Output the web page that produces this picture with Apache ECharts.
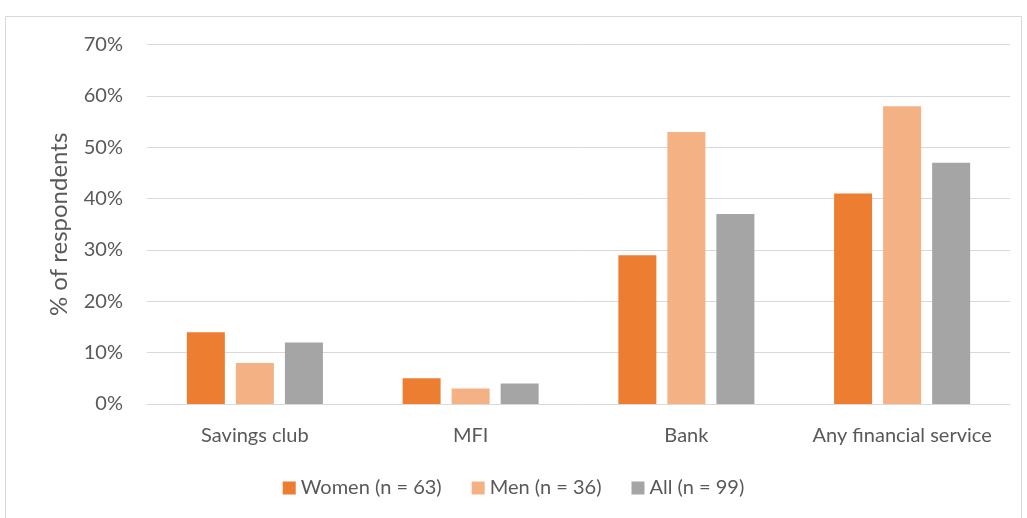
<!DOCTYPE html>
<html>
<head>
<meta charset="utf-8">
<script src="https://cdn.jsdelivr.net/npm/echarts@6/dist/echarts.min.js"></script>
<style>
  html, body { margin: 0; padding: 0; background: #fff; }
  #chart { width: 1027px; height: 518px; }
</style>
</head>
<body>
<div id="chart"></div>
<script>
// Share of respondents using each financial service, by gender
const categories = ['Savings club', 'MFI', 'Bank', 'Any financial service'];
const women = [14, 5, 29, 41];
const men = [8, 3, 53, 58];
const all = [12, 4, 37, 47];
const seriesNames = ['Women (n = 63)', 'Men (n = 36)', 'All (n = 99)'];
const yTicks = [0, 10, 20, 30, 40, 50, 60, 70];

const FONT = 'Lato, "Open Sans", sans-serif';
const TEXT = '#595959';
const colors = ['#ED7D31', '#F4B183', '#A5A5A5'];

const chart = echarts.init(document.getElementById('chart'));

function bar(name, data, color) {
  return {
    name: name,
    type: 'bar',
    data: data,
    barWidth: 38,
    barGap: '29%',
    itemStyle: { color: color },
    emphasis: { disabled: true }
  };
}

chart.setOption({
  animation: false,
  color: colors,
  graphic: [{
    type: 'rect',
    shape: { x: 5.5, y: 16.5, width: 1016, height: 520 },
    style: { fill: 'none', stroke: '#d9d9d9', lineWidth: 1 },
    silent: true
  }],
  grid: { left: 147, right: 17, top: 44.7, bottom: 114, containLabel: false },
  legend: {
    bottom: 15,
    left: 'center',
    itemWidth: 13,
    itemHeight: 13,
    itemGap: 30,
    icon: 'rect',
    textStyle: { color: TEXT, fontFamily: FONT, fontSize: 20 },
    data: seriesNames
  },
  xAxis: {
    type: 'category',
    data: categories,
    axisLine: { show: true, lineStyle: { color: '#d9d9d9', width: 1 } },
    axisTick: { show: false },
    axisLabel: { color: TEXT, fontFamily: FONT, fontSize: 20, margin: 22, interval: 0, hideOverlap: false }
  },
  yAxis: {
    type: 'value',
    min: yTicks[0],
    max: yTicks[yTicks.length - 1],
    interval: 10,
    name: '% of respondents',
    nameLocation: 'middle',
    nameGap: 76,
    nameRotate: 90,
    nameTextStyle: { color: TEXT, fontFamily: FONT, fontSize: 24 },
    axisLine: { show: false },
    axisTick: { show: false },
    axisLabel: { color: TEXT, fontFamily: FONT, fontSize: 20, margin: 24, formatter: '{value}%' },
    splitLine: { lineStyle: { color: '#d9d9d9', width: 1 } }
  },
  series: [
    bar(seriesNames[0], women, colors[0]),
    bar(seriesNames[1], men, colors[1]),
    bar(seriesNames[2], all, colors[2])
  ]
});
</script>
</body>
</html>
